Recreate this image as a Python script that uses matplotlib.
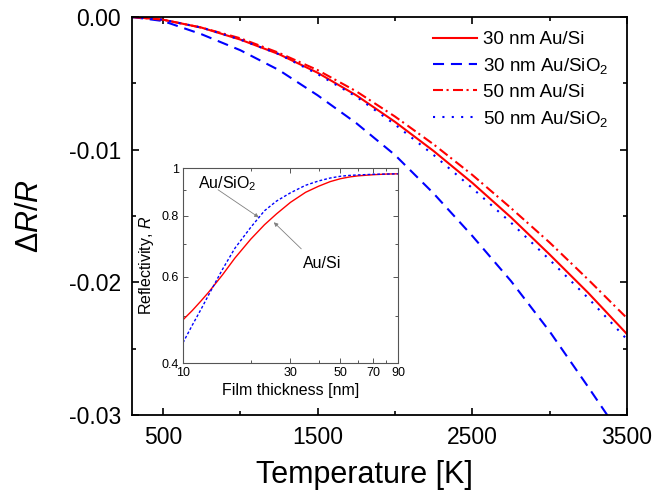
import numpy as np
import matplotlib
matplotlib.use("Agg")
from matplotlib import pyplot as plt
from matplotlib.ticker import FixedLocator, NullFormatter, FormatStrFormatter, FuncFormatter

plt.rcParams['font.family'] = ['Liberation Sans', 'DejaVu Sans']
plt.rcParams['mathtext.fontset'] = 'custom'
plt.rcParams['mathtext.rm'] = 'Liberation Sans'
plt.rcParams['mathtext.it'] = 'Liberation Sans:italic'
plt.rcParams['axes.unicode_minus'] = False

# main panel: dR/R vs temperature
temperature = [300, 500, 750, 1000, 1250, 1500, 1750, 2000, 2250, 2500, 2750, 3000, 3250, 3500]
au_si_30 = [0, -0.0002, -0.0008, -0.0017, -0.0028, -0.0042, -0.0059, -0.0079,
            -0.0101, -0.0125, -0.0151, -0.0179, -0.0208, -0.0239]
au_sio2_30 = [0, -0.0003, -0.0013, -0.0025, -0.0040, -0.0059, -0.0080, -0.0104,
              -0.0133, -0.0165, -0.0199, -0.0237, -0.0279, -0.0322]
au_si_50 = [0, -0.0002, -0.0008, -0.0016, -0.0027, -0.0040, -0.0056, -0.0075,
            -0.0096, -0.0119, -0.0144, -0.0170, -0.0198, -0.0227]
au_sio2_50 = [0, -0.0002, -0.0008, -0.0017, -0.0028, -0.0043, -0.0060, -0.0081,
              -0.0104, -0.0129, -0.0155, -0.0183, -0.0212, -0.0243]

# inset: reflectivity vs film thickness
thickness = [10, 11, 12, 13, 15, 17, 20, 23, 26, 30, 35, 40, 45, 50, 55, 60, 70, 80, 90]
refl_si = [0.490, 0.512, 0.535, 0.558, 0.606, 0.655, 0.716, 0.766, 0.806, 0.851,
           0.892, 0.918, 0.938, 0.951, 0.959, 0.964, 0.969, 0.972, 0.973]
refl_sio2 = [0.440, 0.478, 0.514, 0.551, 0.622, 0.686, 0.757, 0.818, 0.856, 0.890,
             0.922, 0.941, 0.954, 0.962, 0.966, 0.968, 0.971, 0.972, 0.973]

fig = plt.figure(figsize=(6.54, 4.99), dpi=100)
ax = fig.add_axes([0.2018, 0.1683, 0.7569, 0.7976])

lw = 1.5
ax.plot(temperature, au_si_30, color='#ff0000', lw=lw, label='30 nm Au/Si')
ax.plot(temperature, au_sio2_30, color='#0000ff', lw=lw, linestyle=(0, (5.3, 3.3)),
        label='30 nm Au/SiO$_2$')
ax.plot(temperature, au_si_50, color='#ff0000', lw=lw, linestyle=(0, (4.8, 1.7, 1, 2.1)),
        label='50 nm Au/Si')
ax.plot(temperature, au_sio2_50, color='#0000ff', lw=lw, linestyle=(0, (1, 3.5)),
        label='50 nm Au/SiO$_2$')

ax.set_xlim(300, 3500)
ax.set_ylim(-0.03, 0)
ax.xaxis.set_major_locator(FixedLocator([500, 1500, 2500, 3500]))
ax.xaxis.set_minor_locator(FixedLocator([1000, 2000, 3000]))
ax.yaxis.set_major_locator(FixedLocator([0, -0.01, -0.02, -0.03]))
ax.yaxis.set_minor_locator(FixedLocator([-0.005, -0.015, -0.025]))
ax.yaxis.set_major_formatter(FuncFormatter(lambda v, p: '0.00' if abs(v) < 1e-9 else '%.2f' % v))
ax.tick_params(which='both', direction='in', top=True, right=True, width=1.2,
               labelsize=16.5, colors='black')
ax.tick_params(which='major', length=5, pad=8)
ax.tick_params(which='minor', length=3)
for s in ax.spines.values():
    s.set_linewidth(1.3)

ax.set_xlabel('Temperature [K]', fontsize=22)
ax.set_ylabel('Δ$R/R$', fontsize=22)
ax.xaxis.set_label_coords(0.47, -0.151)
ax.yaxis.set_label_coords(-0.206, 0.5)
ax.xaxis.label.set_va('center')
ax.yaxis.label.set_va('center')

ax.legend(loc='upper left', bbox_to_anchor=(0.608, 0.965), frameon=False,
          fontsize=13.5, handlelength=2.35, handletextpad=0.32, labelspacing=0.42,
          borderpad=0, borderaxespad=0)

# inset
ins = fig.add_axes([0.2798, 0.2725, 0.3287, 0.3908])
ins.plot(thickness, refl_si, color='#ff0000', lw=1.0)
ins.plot(thickness, refl_sio2, color='#0000ff', lw=1.0, linestyle=(0, (2, 1.5)))
ins.set_xscale('log')
ins.set_yscale('log')
ins.set_xlim(10, 90)
ins.set_ylim(0.4, 1.0)
ins.xaxis.set_major_locator(FixedLocator([10, 30, 50, 70, 90]))
ins.xaxis.set_minor_locator(FixedLocator([20, 40, 60, 80]))
ins.yaxis.set_major_locator(FixedLocator([0.4, 0.6, 0.8, 1.0]))
ins.yaxis.set_minor_locator(FixedLocator([0.5, 0.7, 0.9]))
ins.xaxis.set_major_formatter(FormatStrFormatter('%g'))
ins.yaxis.set_major_formatter(FuncFormatter(lambda v, p: '%g' % v))
ins.xaxis.set_minor_formatter(NullFormatter())
ins.yaxis.set_minor_formatter(NullFormatter())
ins.tick_params(which='both', direction='in', top=True, right=True, width=0.7,
                color='#555555', labelsize=9, pad=3)
ins.tick_params(which='major', length=3.5)
ins.tick_params(which='minor', length=2.5)
for s in ins.spines.values():
    s.set_linewidth(0.8)
    s.set_color('#555555')
ins.set_xlabel('Film thickness [nm]', fontsize=11.5, labelpad=3)
ins.set_ylabel('Reflectivity, $R$', fontsize=11.5, labelpad=4)

arrow = dict(arrowstyle='-|>', color='#808080', lw=0.6, mutation_scale=6,
             shrinkA=0, shrinkB=0)
ins.annotate('Au/SiO$_2$', xy=(11.6, 0.929), fontsize=11.5, ha='left', va='center')
ins.annotate('', xy=(21.7, 0.793), xytext=(14.3, 0.903), arrowprops=arrow)
ins.annotate('Au/Si', xy=(34.0, 0.637), fontsize=11.5, ha='left', va='center')
ins.annotate('', xy=(25.3, 0.775), xytext=(33.5, 0.684), arrowprops=arrow)

fig.savefig('out.png', dpi=100, facecolor='white')
